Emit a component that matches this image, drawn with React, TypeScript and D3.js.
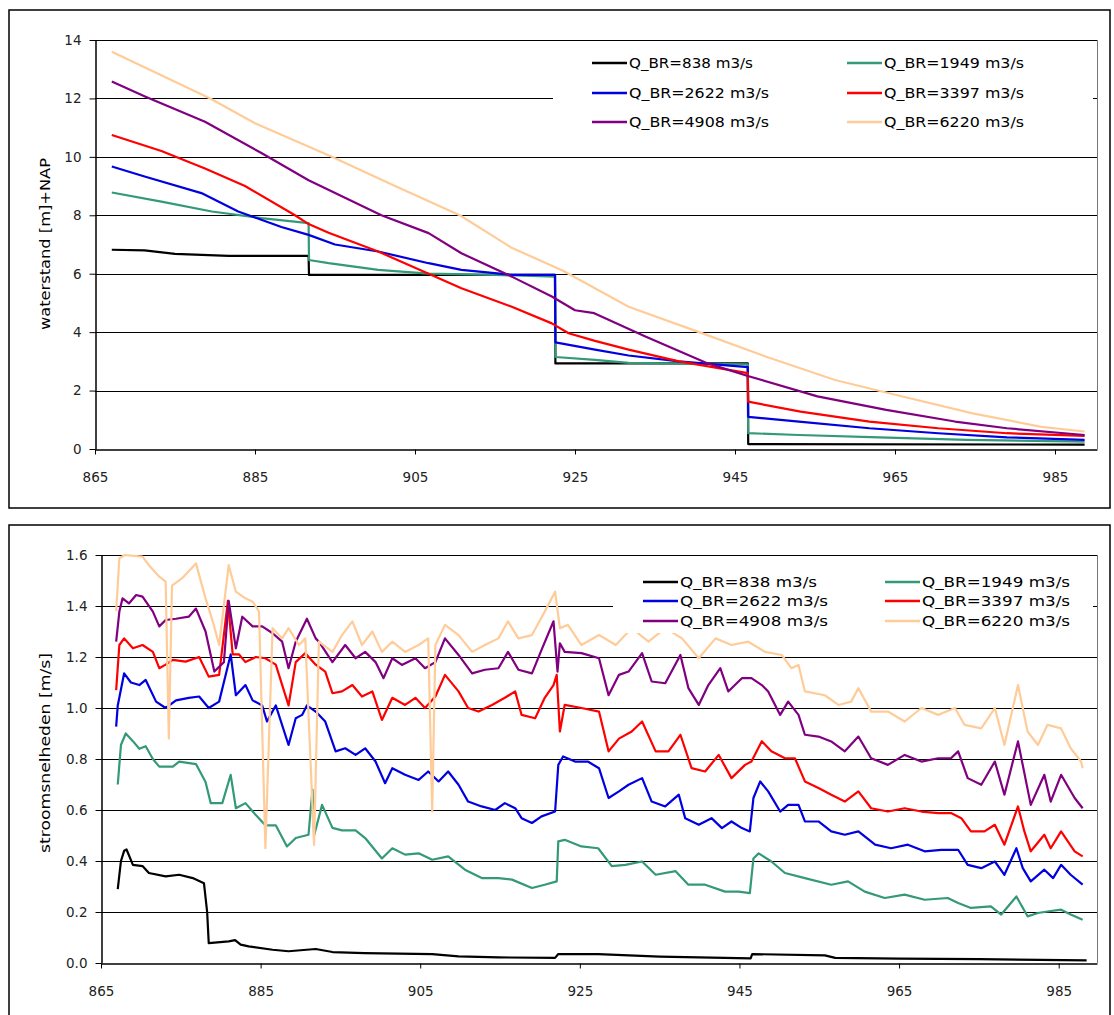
import { useEffect, useRef } from 'react';
import * as d3 from 'd3';

type Pt = [number, number];

const seriesLabels = [
  'Q_BR=838 m3/s', 'Q_BR=1949 m3/s',
  'Q_BR=2622 m3/s', 'Q_BR=3397 m3/s',
  'Q_BR=4908 m3/s', 'Q_BR=6220 m3/s'
];
const seriesColors = ['#000000', '#339977', '#0000e0', '#ff0000', '#800080', '#ffcc99'];

const kmTicks = [865, 885, 905, 925, 945, 965, 985];
const levelTicks = [0, 2, 4, 6, 8, 10, 12, 14];
const speedTicks = [0, 0.2, 0.4, 0.6, 0.8, 1.0, 1.2, 1.4, 1.6];

// waterstand [m]+NAP per km
const level838: Pt[] = [
  [867.1, 6.82], [871.2, 6.8], [875, 6.68], [881.7, 6.61], [891.7, 6.61], [891.75, 5.96],
  [922.5, 5.96], [922.55, 2.93], [946.6, 2.93], [946.65, 0.17], [988.7, 0.15]
];
const level1949: Pt[] = [
  [867.1, 8.78], [873.3, 8.47], [879.6, 8.13], [885.8, 7.9], [891.7, 7.73], [891.75, 6.47],
  [894.2, 6.36], [900.4, 6.13], [906.7, 6.0], [915, 5.96], [922.5, 5.9], [922.55, 3.15],
  [927.5, 3.05], [931.7, 2.95], [946.6, 2.9], [946.65, 0.54], [953, 0.48], [963, 0.4],
  [974, 0.31], [988.7, 0.25]
];
const level2622: Pt[] = [
  [867.1, 9.67], [871.2, 9.33], [878.3, 8.76], [882.9, 8.13], [888.3, 7.6], [891.7, 7.33],
  [895, 7.0], [900.4, 6.76], [906.7, 6.36], [910.8, 6.13], [917.1, 5.96], [922.5, 5.96],
  [922.55, 3.65], [927.5, 3.4], [931.7, 3.2], [938, 3.0], [946.6, 2.8], [946.65, 1.1],
  [953, 0.94], [961.8, 0.71], [970.4, 0.54], [979, 0.4], [988.7, 0.31]
];
const level3397: Pt[] = [
  [867.1, 10.75], [873.3, 10.2], [878.75, 9.6], [883.75, 9.0], [890, 8.0], [891.7, 7.7],
  [894.2, 7.4], [900.4, 6.76], [906.7, 6.0], [910.8, 5.5], [917.1, 4.87], [922.1, 4.3],
  [924.2, 3.96], [927.5, 3.7], [931.7, 3.4], [938, 3.0], [946.6, 2.6], [946.65, 1.62],
  [953.2, 1.28], [961.8, 0.94], [970.4, 0.71], [979, 0.54], [988.7, 0.45]
];
const level4908: Pt[] = [
  [867.1, 12.58], [871.25, 12.07], [878.75, 11.2], [885.8, 10.13], [891.7, 9.2], [900.8, 8.0],
  [906.7, 7.39], [910.8, 6.7], [917.1, 5.9], [922.1, 5.22], [925, 4.75], [927.4, 4.65],
  [933.8, 3.85], [941.6, 2.93], [946.6, 2.5], [955.3, 1.8], [963.9, 1.34], [972.5, 0.94],
  [979, 0.71], [988.7, 0.48]
];
const level6220: Pt[] = [
  [867.1, 13.6], [879.4, 12.0], [885, 11.15], [894.6, 10.0], [902.5, 9.0], [910.6, 8.0],
  [917, 6.9], [923.5, 6.1], [931.7, 4.87], [940.5, 4.0], [948.9, 3.16], [957.5, 2.36],
  [964.4, 1.9], [974.7, 1.22], [983.3, 0.76], [988.7, 0.6]
];

// stroomsnelheden [m/s] per km
const speed838: Pt[] = [
  [867.1, 0.29], [867.5, 0.4], [867.9, 0.44], [868.2, 0.445], [869, 0.385], [870.2, 0.38],
  [871, 0.353], [873.1, 0.34], [874.8, 0.346], [876.5, 0.333], [877.9, 0.313], [878.3, 0.2],
  [878.5, 0.078], [881, 0.085], [881.8, 0.09], [882.5, 0.072], [883.5, 0.065], [886.5, 0.052],
  [888.5, 0.046], [891.9, 0.055], [894, 0.043], [898, 0.039], [906.5, 0.035], [909.8, 0.026],
  [914.8, 0.022], [921.9, 0.02], [922.3, 0.035], [927.3, 0.035], [935, 0.025], [946.4, 0.018],
  [946.6, 0.035], [955.7, 0.03], [957, 0.02], [965, 0.017], [975, 0.015], [988.5, 0.01]
];
const speed1949: Pt[] = [
  [867.1, 0.7], [867.5, 0.855], [868.1, 0.9], [869, 0.87], [869.8, 0.84], [870.6, 0.85],
  [871.5, 0.8], [872.3, 0.77], [874, 0.77], [874.8, 0.79], [876.9, 0.78], [878.1, 0.71],
  [878.75, 0.627], [880.2, 0.627], [881.25, 0.738], [881.9, 0.607], [883.1, 0.627],
  [884.4, 0.58], [885.6, 0.54], [886.9, 0.54], [888.3, 0.457], [889.4, 0.49], [891, 0.503],
  [891.5, 0.68], [891.7, 0.5], [892.7, 0.62], [894, 0.53], [895.2, 0.52], [896.9, 0.52],
  [898.1, 0.49], [900.2, 0.41], [901.5, 0.45], [903.1, 0.425], [904.8, 0.43], [906.5, 0.405],
  [908.5, 0.418], [910.6, 0.366], [912.7, 0.333], [914.8, 0.333], [916.5, 0.327], [919, 0.294],
  [920.6, 0.307], [922.1, 0.32], [922.3, 0.477], [923.1, 0.483], [925.2, 0.457], [927.3, 0.45],
  [929, 0.38], [930.7, 0.385], [932.8, 0.398], [934.5, 0.346], [937, 0.36], [938.6, 0.307],
  [940.7, 0.307], [943.2, 0.28], [944.9, 0.28], [946.3, 0.274], [946.75, 0.41], [947.4, 0.43],
  [949, 0.398], [950.7, 0.353], [953.2, 0.333], [956.5, 0.307], [958.6, 0.32], [960.7, 0.28],
  [963.2, 0.255], [965.7, 0.268], [968.2, 0.248], [971.1, 0.255], [972.4, 0.235], [974, 0.216],
  [976.5, 0.222], [977.8, 0.19], [979.7, 0.261], [981.1, 0.183], [982.4, 0.196], [983.6, 0.202],
  [985.3, 0.209], [986.5, 0.19], [988, 0.17]
];
const speed2622: Pt[] = [
  [866.9, 0.927], [867.1, 1.01], [867.9, 1.136], [868.75, 1.1], [869.8, 1.09], [870.6, 1.11],
  [871.9, 1.025], [873.1, 1.0], [874.4, 1.03], [876, 1.04], [877.3, 1.045], [878.5, 1.0],
  [879.8, 1.025], [881.25, 1.21], [881.9, 1.05], [883.1, 1.09], [884, 1.03], [885.2, 1.01],
  [885.8, 0.947], [886.9, 1.01], [888.5, 0.855], [889.4, 0.96], [890.2, 0.973], [890.8, 1.01],
  [891.9, 0.986], [893.1, 0.947], [894.4, 0.83], [895.6, 0.842], [896.9, 0.816], [898.1, 0.842],
  [899.4, 0.79], [900.6, 0.705], [901.5, 0.764], [903.1, 0.738], [904.8, 0.718], [906, 0.751],
  [907.3, 0.712], [908.5, 0.751], [909.8, 0.699], [911, 0.633], [912.7, 0.614], [914.4, 0.6],
  [915.6, 0.627], [916.9, 0.607], [917.7, 0.568], [919, 0.549], [920.2, 0.575], [921.9, 0.594],
  [922.3, 0.777], [922.9, 0.81], [924.4, 0.79], [926, 0.79], [927.4, 0.764], [928.6, 0.647],
  [929.9, 0.673], [931.1, 0.699], [932.8, 0.725], [934, 0.633], [935.7, 0.614], [937.4, 0.66],
  [938.2, 0.568], [939.9, 0.542], [941.5, 0.568], [942.8, 0.529], [944, 0.555], [945.3, 0.529],
  [946.3, 0.516], [946.75, 0.647], [947.6, 0.712], [948.6, 0.673], [950.1, 0.594], [951.1, 0.62],
  [952.4, 0.62], [953.2, 0.555], [954.9, 0.555], [956.5, 0.516], [958.2, 0.503], [959.9, 0.516],
  [962, 0.464], [964, 0.45], [966.1, 0.464], [968.2, 0.438], [970.3, 0.444], [972.4, 0.444],
  [973.6, 0.385], [975.3, 0.372], [977, 0.398], [978.2, 0.346], [979.7, 0.45], [980.5, 0.372],
  [981.5, 0.32], [983.2, 0.366], [984.3, 0.333], [985.3, 0.385], [986.5, 0.346], [988, 0.307]
];
const speed3397: Pt[] = [
  [866.9, 1.07], [867.3, 1.247], [867.9, 1.273], [869, 1.234], [870.2, 1.247], [871.5, 1.22],
  [872.3, 1.156], [873.1, 1.17], [874, 1.189], [875.6, 1.182], [877.3, 1.2], [878.5, 1.123],
  [879.8, 1.13], [880.9, 1.42], [881.5, 1.21], [882.3, 1.21], [883.1, 1.18], [884.4, 1.2],
  [885.6, 1.195], [886.9, 1.17], [888.5, 1.01], [889.4, 1.18], [890.6, 1.215], [891.9, 1.17],
  [893.1, 1.143], [894, 1.058], [895.2, 1.065], [896.5, 1.09], [897.7, 1.045], [899, 1.065],
  [900.2, 0.953], [901.5, 1.04], [903.1, 1.012], [904.4, 1.04], [905.6, 1.0], [906.9, 1.045],
  [908.1, 1.13], [909.8, 1.065], [911, 1.0], [912.3, 0.986], [914, 1.012], [915.6, 1.04],
  [916.9, 1.065], [917.7, 0.973], [919.4, 0.96], [920.6, 1.04], [921.7, 1.09], [922.1, 1.13],
  [922.5, 0.908], [923.1, 1.012], [925.2, 1.0], [927.4, 0.986], [928.6, 0.83], [929.9, 0.88],
  [931.5, 0.908], [932.8, 0.947], [934.5, 0.83], [936.1, 0.83], [937.6, 0.895], [939, 0.764],
  [940.7, 0.751], [942.4, 0.816], [944, 0.725], [945.7, 0.777], [946.5, 0.79], [947.8, 0.87],
  [949, 0.83], [950.7, 0.803], [951.95, 0.803], [953.2, 0.712], [954.9, 0.686], [956.5, 0.66],
  [958.2, 0.633], [959.9, 0.673], [961.5, 0.607], [963.6, 0.594], [965.7, 0.607], [967.8, 0.594],
  [969.9, 0.588], [971.5, 0.588], [972.8, 0.568], [974, 0.516], [975.7, 0.516], [977, 0.542],
  [978.2, 0.464], [979.9, 0.614], [980.7, 0.516], [981.5, 0.438], [983.2, 0.503], [984, 0.45],
  [985.3, 0.516], [987, 0.438], [988, 0.418]
];
const speed4908: Pt[] = [
  [866.9, 1.26], [867.3, 1.378], [867.7, 1.43], [868.5, 1.41], [869.4, 1.443], [870.2, 1.437],
  [871.5, 1.378], [872.3, 1.32], [873.1, 1.345], [874.4, 1.35], [876, 1.358], [876.9, 1.39],
  [878.1, 1.3], [879.2, 1.143], [880.4, 1.18], [881, 1.42], [881.9, 1.234], [882.7, 1.358],
  [884, 1.32], [885.2, 1.32], [886.5, 1.293], [887.7, 1.26], [888.5, 1.156], [889.4, 1.26],
  [890.8, 1.35], [891.9, 1.273], [892.3, 1.26], [894, 1.18], [895.6, 1.247], [896.9, 1.195],
  [898.1, 1.22], [899.4, 1.18], [900.4, 1.117], [901.5, 1.195], [902.7, 1.169], [904.4, 1.195],
  [905.6, 1.156], [906.9, 1.18], [908.1, 1.273], [909.8, 1.208], [911.5, 1.136], [913.1, 1.15],
  [914.8, 1.156], [916, 1.22], [917.3, 1.15], [919, 1.136], [920.2, 1.228], [921.7, 1.34],
  [922.2, 1.143], [922.5, 1.254], [923.1, 1.22], [925.2, 1.215], [927.4, 1.195], [928.6, 1.05],
  [929.9, 1.13], [931.1, 1.143], [932.8, 1.215], [934, 1.104], [935.7, 1.097], [937.6, 1.208],
  [938.6, 1.078], [939.9, 1.012], [941.1, 1.09], [942.6, 1.156], [943.6, 1.065], [945.3, 1.117],
  [946.5, 1.117], [947.8, 1.09], [948.6, 1.065], [950.1, 0.973], [951.1, 1.025], [952.4, 0.973],
  [953.2, 0.895], [954.9, 0.888], [956.5, 0.869], [958.2, 0.83], [959.9, 0.888], [961.5, 0.803],
  [963.6, 0.777], [965.7, 0.816], [967.8, 0.79], [969.9, 0.803], [971.5, 0.803], [972.4, 0.83],
  [973.6, 0.725], [975.3, 0.699], [977, 0.79], [978.2, 0.66], [979.9, 0.869], [981.5, 0.62],
  [983.2, 0.738], [984, 0.633], [985.3, 0.738], [987, 0.647], [988, 0.607]
];
const speed6220: Pt[] = [
  [866.9, 1.38], [867.3, 1.587], [868, 1.6], [870.2, 1.594], [871, 1.56], [872.3, 1.515],
  [873.1, 1.496], [873.5, 0.88], [873.9, 1.48], [875.2, 1.51], [876.9, 1.567], [878.1, 1.43],
  [879, 1.34], [879.8, 1.247], [881, 1.56], [881.9, 1.456], [883.1, 1.43], [884, 1.417],
  [884.8, 1.378], [885.6, 0.45], [886.5, 1.313], [887.7, 1.273], [888.5, 1.313], [889.8, 1.247],
  [890.6, 1.273], [891.7, 0.463], [892.3, 1.26], [894, 1.22], [895.2, 1.286], [896.5, 1.34],
  [897.7, 1.247], [899, 1.3], [900.2, 1.22], [901.5, 1.26], [903.1, 1.22], [904.8, 1.247],
  [906, 1.273], [906.5, 0.594], [906.9, 1.247], [908.1, 1.326], [909.8, 1.286], [911.5, 1.22],
  [913.1, 1.247], [914.8, 1.273], [916, 1.34], [917.3, 1.273], [919, 1.286], [920.6, 1.378],
  [921.9, 1.456], [922.5, 1.313], [923.5, 1.326], [925.2, 1.247], [927.4, 1.286], [929.5, 1.247],
  [931.5, 1.313], [933.6, 1.26], [935.7, 1.313], [937.8, 1.273], [939.9, 1.195], [942, 1.273],
  [944, 1.247], [946.1, 1.26], [948.2, 1.22], [950.3, 1.208], [951.5, 1.156], [952.4, 1.169],
  [953.2, 1.065], [955.7, 1.05], [957.4, 1.012], [959, 1.025], [959.9, 1.078], [961.5, 0.986],
  [963.6, 0.986], [965.7, 0.947], [967.8, 1.0], [969.9, 0.973], [972, 1.0], [973.2, 0.934],
  [975.3, 0.92], [977, 1.0], [978.2, 0.855], [979.9, 1.09], [981.1, 0.908], [982.4, 0.855],
  [983.6, 0.934], [985.3, 0.92], [986.5, 0.842], [987.8, 0.79], [988, 0.764]
];

const levelSeries = [level838, level1949, level2622, level3397, level4908, level6220];
const speedSeries = [speed838, speed1949, speed2622, speed3397, speed4908, speed6220];

const FONT = '"DejaVu Sans", Arial, sans-serif';

interface ChartCfg {
  frame: [number, number, number, number];
  left: number; right: number; top: number; bottom: number;
  xDomain: [number, number];
  yTicks: number[];
  yFormat: (v: number) => string;
  series: Pt[][];
  title: string; titleY: number; titleLen: number;
  legendBg: [number, number, number, number];
  legendCols: number[];
  legendRows: number[];
  legendLen: [number, number];
}

function drawChart(svg: d3.Selection<SVGSVGElement, unknown, null, undefined>, cfg: ChartCfg) {
  const g = svg.append('g');

  g.append('rect')
    .attr('x', cfg.frame[0]).attr('y', cfg.frame[1])
    .attr('width', cfg.frame[2]).attr('height', cfg.frame[3])
    .attr('fill', '#fff').attr('stroke', '#000').attr('stroke-width', 1.5);

  const x = d3.scaleLinear().domain(cfg.xDomain).range([cfg.left, cfg.right]);
  const y = d3.scaleLinear()
    .domain([0, cfg.yTicks[cfg.yTicks.length - 1]])
    .range([cfg.bottom, cfg.top]);

  // gridlines
  g.selectAll('line.grid')
    .data(cfg.yTicks.filter(v => v > 0))
    .join('line')
    .attr('class', 'grid')
    .attr('x1', cfg.left).attr('x2', cfg.right)
    .attr('y1', d => Math.round(y(d)) + 0.5).attr('y2', d => Math.round(y(d)) + 0.5)
    .attr('stroke', '#000').attr('stroke-width', 1);

  // right edge of plot area
  g.append('line')
    .attr('x1', cfg.right + 0.5).attr('x2', cfg.right + 0.5)
    .attr('y1', cfg.top).attr('y2', cfg.bottom)
    .attr('stroke', '#777').attr('stroke-width', 1);

  const line = d3.line<Pt>().x(d => x(d[0])).y(d => y(d[1]));
  cfg.series.forEach((s, i) => {
    g.append('path')
      .attr('d', line(s))
      .attr('fill', 'none')
      .attr('stroke', seriesColors[i])
      .attr('stroke-width', 2.2)
      .attr('stroke-linejoin', 'round');
  });

  // legend
  const lg = g.append('g');
  lg.append('rect')
    .attr('x', cfg.legendBg[0]).attr('y', cfg.legendBg[1])
    .attr('width', cfg.legendBg[2]).attr('height', cfg.legendBg[3])
    .attr('fill', '#fff');
  seriesLabels.forEach((label, i) => {
    const cx = cfg.legendCols[i % 2];
    const cy = cfg.legendRows[Math.floor(i / 2)];
    lg.append('line')
      .attr('x1', cx).attr('x2', cx + 35)
      .attr('y1', cy).attr('y2', cy)
      .attr('stroke', seriesColors[i]).attr('stroke-width', 2.5);
    const short = label.includes('=838');
    lg.append('text')
      .attr('x', cx + 37).attr('y', cy + 5)
      .attr('textLength', short ? cfg.legendLen[0] : cfg.legendLen[1])
      .attr('lengthAdjust', 'spacingAndGlyphs')
      .style('font-family', FONT)
      .style('font-size', '14px')
      .attr('fill', '#000')
      .text(label);
  });

  // axes
  const xAxis = g.append('g')
    .attr('transform', `translate(0,${Math.round(cfg.bottom) + 0.5})`)
    .call(d3.axisBottom(x).tickValues(kmTicks).tickSize(5).tickSizeOuter(0).tickPadding(18).tickFormat(d => String(d)));
  const yAxis = g.append('g')
    .attr('transform', `translate(${cfg.left + 0.5},0)`)
    .call(d3.axisLeft(y).tickValues(cfg.yTicks).tickSize(6).tickSizeOuter(0).tickPadding(8).tickFormat(d => cfg.yFormat(+d)));
  [xAxis, yAxis].forEach(a => {
    a.attr('font-family', FONT).attr('font-size', 13.5);
    a.selectAll('path').attr('stroke', '#000').attr('stroke-width', 1.5);
    a.selectAll('line').attr('stroke', '#000');
    a.selectAll('text').attr('fill', '#222');
  });

  g.append('text')
    .attr('transform', `translate(50,${cfg.titleY}) rotate(-90)`)
    .attr('text-anchor', 'middle')
    .attr('textLength', cfg.titleLen)
    .attr('lengthAdjust', 'spacingAndGlyphs')
    .style('font-family', FONT)
    .style('font-size', '14.5px')
    .attr('fill', '#000')
    .text(cfg.title);
}

export default function App() {
  const svgRef = useRef<SVGSVGElement>(null);

  useEffect(() => {
    if (!svgRef.current) return;
    const svg = d3.select(svgRef.current);
    svg.selectAll('*').remove();

    drawChart(svg, {
      frame: [9, 10, 1101, 498],
      left: 95, right: 1097, top: 40, bottom: 449,
      xDomain: [865, 990.25],
      yTicks: levelTicks,
      yFormat: v => String(v),
      series: levelSeries,
      title: 'waterstand [m]+NAP', titleY: 244, titleLen: 172,
      legendBg: [553, 46, 540, 92],
      legendCols: [592, 847],
      legendRows: [63, 93, 122],
      legendLen: [124, 140]
    });

    drawChart(svg, {
      frame: [9, 525, 1101, 520],
      left: 101, right: 1097, top: 555, bottom: 963,
      xDomain: [865, 989.8],
      yTicks: speedTicks,
      yFormat: v => v.toFixed(1),
      series: speedSeries,
      title: 'stroomsnelheden [m/s]', titleY: 753, titleLen: 200,
      legendBg: [613, 565, 480, 68],
      legendCols: [643, 885],
      legendRows: [582, 601, 621],
      legendLen: [137, 148]
    });
  }, []);

  return (
    <div style={{ position: 'absolute', left: 0, top: 0, width: 1114, height: 1015, background: '#fff' }}>
      <svg ref={svgRef} width={1114} height={1015} style={{ display: 'block' }}></svg>
    </div>
  );
}
